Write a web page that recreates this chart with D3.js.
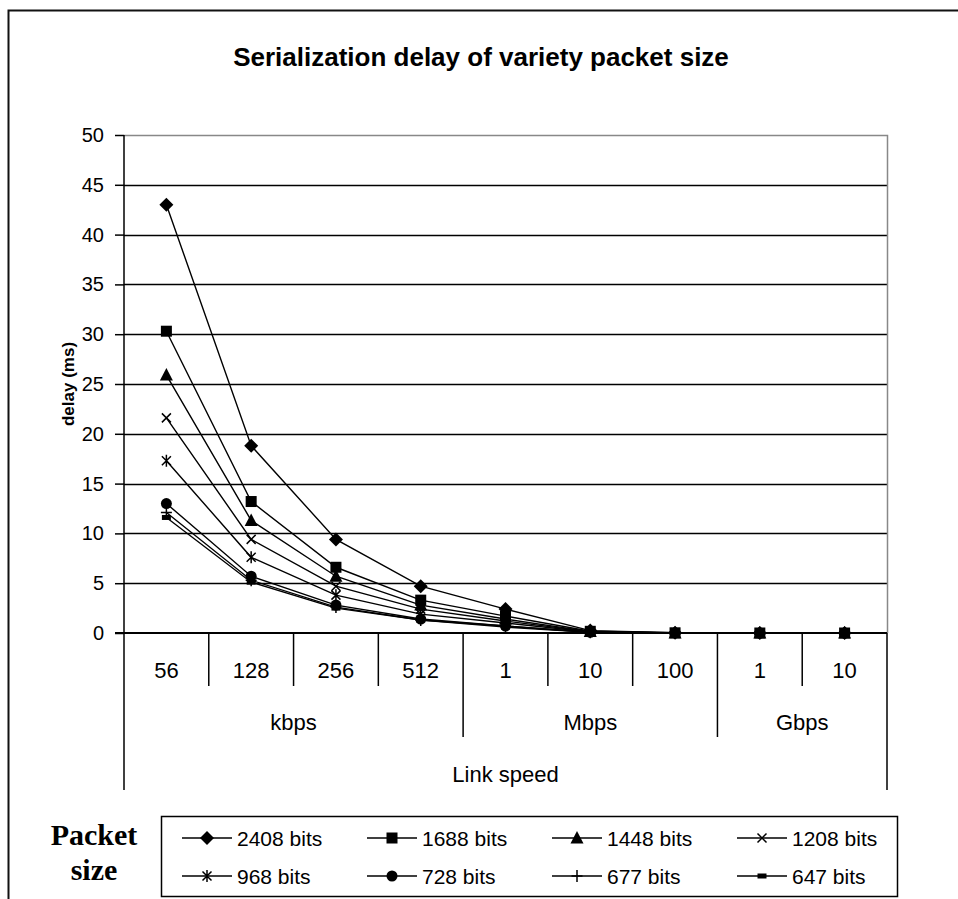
<!DOCTYPE html>
<html>
<head>
<meta charset="utf-8">
<script src="https://cdn.jsdelivr.net/npm/d3@7"></script>
<style>
  body { margin: 0; background: #fff; }
  text { font-family: 'Liberation Sans', Arial, sans-serif; fill: #000; }
</style>
</head>
<body>
<div id="chart"></div>
<script>
// link speed categories (level 1, then group)
const speeds = ['56', '128', '256', '512', '1', '10', '100', '1', '10'];
const groups = [
  { name: 'kbps', from: 0, to: 4 },
  { name: 'Mbps', from: 4, to: 7 },
  { name: 'Gbps', from: 7, to: 9 },
];
const yTicks = [0, 5, 10, 15, 20, 25, 30, 35, 40, 45, 50];

// delay (ms) per packet size
const s2408 = [43.0, 18.8, 9.4, 4.7, 2.4, 0.24, 0.02, 0, 0];
const s1688 = [30.3, 13.2, 6.6, 3.3, 1.7, 0.17, 0.02, 0, 0];
const s1448 = [25.9, 11.3, 5.7, 2.8, 1.4, 0.14, 0.01, 0, 0];
const s1208 = [21.6, 9.4, 4.7, 2.4, 1.2, 0.12, 0.01, 0, 0];
const s968 = [17.3, 7.6, 3.8, 1.9, 1.0, 0.1, 0.01, 0, 0];
const s728 = [13.0, 5.7, 2.8, 1.4, 0.7, 0.07, 0.01, 0, 0];
const s677 = [12.1, 5.3, 2.6, 1.3, 0.7, 0.07, 0.01, 0, 0];
const s647 = [11.6, 5.1, 2.5, 1.3, 0.6, 0.06, 0.01, 0, 0];

const series = [
  { name: '2408 bits', values: s2408, marker: 'diamond' },
  { name: '1688 bits', values: s1688, marker: 'square' },
  { name: '1448 bits', values: s1448, marker: 'triangle' },
  { name: '1208 bits', values: s1208, marker: 'x' },
  { name: '968 bits', values: s968, marker: 'star' },
  { name: '728 bits', values: s728, marker: 'circle' },
  { name: '677 bits', values: s677, marker: 'plus' },
  { name: '647 bits', values: s647, marker: 'dash' },
];

const W = 958, H = 899;
const plot = { left: 124, right: 887, top: 135, bottom: 633 };

const svg = d3.select('#chart').append('svg')
  .attr('width', W).attr('height', H);

// outer frame (only top and left visible in the crop)
svg.append('path')
  .attr('d', 'M8.5,' + H + 'V10.5H' + W)
  .attr('fill', 'none').attr('stroke', '#111').attr('stroke-width', 2);

svg.append('text')
  .attr('x', 481).attr('y', 66)
  .attr('text-anchor', 'middle')
  .style('font-weight', 'bold').style('font-size', '26px')
  .text('Serialization delay of variety packet size');

const x = d3.scaleBand().domain(d3.range(speeds.length))
  .range([plot.left, plot.right]).padding(0);
const y = d3.scaleLinear().domain([0, 50]).range([plot.bottom, plot.top]);

// gridlines
svg.append('g').selectAll('line')
  .data(yTicks.filter((d) => d > 0 && d < 50)).enter().append('line')
  .attr('x1', plot.left).attr('x2', plot.right)
  .attr('y1', (d) => Math.round(y(d)) + 0.5).attr('y2', (d) => Math.round(y(d)) + 0.5)
  .attr('stroke', '#000').attr('stroke-width', 1.5);

// plot border (gray top/right)
svg.append('path')
  .attr('d', 'M' + plot.left + ',' + (plot.top + 0.5) + 'H' + (plot.right + 0.5) + 'V' + plot.bottom)
  .attr('fill', 'none').attr('stroke', '#888').attr('stroke-width', 1.5);

// y axis
const yAxis = svg.append('g')
  .attr('transform', 'translate(' + plot.left + ',0)')
  .call(d3.axisLeft(y).tickValues(yTicks).tickSize(9).tickPadding(11));
yAxis.select('.domain').remove();
yAxis.selectAll('line').attr('stroke', '#000').attr('stroke-width', 1.5);
yAxis.selectAll('text')
  .style('font-size', '20px')
  .style('font-family', "'Liberation Sans', Arial, sans-serif");

svg.append('line')
  .attr('x1', plot.left).attr('x2', plot.left)
  .attr('y1', plot.top).attr('y2', 790)
  .attr('stroke', '#000').attr('stroke-width', 1.5);
svg.append('line')
  .attr('x1', plot.right).attr('x2', plot.right)
  .attr('y1', plot.bottom).attr('y2', 790)
  .attr('stroke', '#000').attr('stroke-width', 1.5);

// x axis line
svg.append('line')
  .attr('x1', plot.left - 9).attr('x2', plot.right)
  .attr('y1', plot.bottom).attr('y2', plot.bottom)
  .attr('stroke', '#000').attr('stroke-width', 2);

svg.append('text')
  .attr('transform', 'translate(74,' + ((plot.top + plot.bottom) / 2) + ') rotate(-90)')
  .attr('text-anchor', 'middle')
  .style('font-weight', 'bold').style('font-size', '17px')
  .text('delay (ms)');

// category level 1
const cat = svg.append('g');
cat.selectAll('line.sep')
  .data(d3.range(1, speeds.length)).enter().append('line')
  .attr('x1', (i) => x(i)).attr('x2', (i) => x(i))
  .attr('y1', plot.bottom).attr('y2', (i) => (groups.some((g) => g.from === i) ? 737 : 686))
  .attr('stroke', '#000').attr('stroke-width', 1.5);
cat.selectAll('text.speed')
  .data(speeds).enter().append('text')
  .attr('x', (d, i) => x(i) + x.bandwidth() / 2)
  .attr('y', 678)
  .attr('text-anchor', 'middle')
  .style('font-size', '22px')
  .text((d) => d);
cat.selectAll('text.group')
  .data(groups).enter().append('text')
  .attr('x', (g) => (x(g.from) + (g.to < speeds.length ? x(g.to) : plot.right)) / 2)
  .attr('y', 730)
  .attr('text-anchor', 'middle')
  .style('font-size', '22px')
  .text((g) => g.name);
svg.append('text')
  .attr('x', (plot.left + plot.right) / 2).attr('y', 782)
  .attr('text-anchor', 'middle')
  .style('font-size', '22px')
  .text('Link speed');

// marker drawing
const drawMarker = (g, type) => {
  switch (type) {
    case 'diamond':
      g.append('path').attr('d', 'M0,-7L7,0L0,7L-7,0Z').attr('fill', '#000');
      break;
    case 'square':
      g.append('rect').attr('x', -5.5).attr('y', -5.5).attr('width', 11).attr('height', 11).attr('fill', '#000');
      break;
    case 'triangle':
      g.append('path').attr('d', 'M0,-7L6.5,5.5L-6.5,5.5Z').attr('fill', '#000');
      break;
    case 'x':
      g.append('path').attr('d', 'M-4.5,-4.5L4.5,4.5M-4.5,4.5L4.5,-4.5').attr('stroke', '#000').attr('stroke-width', 1.5);
      break;
    case 'star':
      g.append('path').attr('d', 'M-4.5,-4.5L4.5,4.5M-4.5,4.5L4.5,-4.5M0,-6V6').attr('stroke', '#000').attr('stroke-width', 1.5);
      break;
    case 'circle':
      g.append('circle').attr('r', 5.5).attr('fill', '#000');
      break;
    case 'plus':
      g.append('path').attr('d', 'M-5.5,0H5.5M0,-6V6').attr('stroke', '#000').attr('stroke-width', 1.5);
      break;
    case 'dash':
      g.append('rect').attr('x', -4.5).attr('y', -2.5).attr('width', 9).attr('height', 5).attr('fill', '#000');
      break;
  }
};

const line = d3.line()
  .x((d, i) => x(i) + x.bandwidth() / 2)
  .y((d) => y(d));

const lines = svg.append('g');
series.slice().reverse().forEach((s) => {
  lines.append('path')
    .datum(s.values)
    .attr('fill', 'none')
    .attr('stroke', '#000')
    .attr('stroke-width', 1.4)
    .attr('d', line);
});
series.slice().reverse().forEach((s) => {
  s.values.forEach((v, i) => {
    const g = lines.append('g')
      .attr('transform', 'translate(' + (x(i) + x.bandwidth() / 2) + ',' + y(v) + ')');
    drawMarker(g, s.marker);
  });
});

// legend
svg.append('rect')
  .attr('x', 161.5).attr('y', 816.5).attr('width', 736).attr('height', 80)
  .attr('fill', '#fff').attr('stroke', '#000').attr('stroke-width', 1.5);

const legend = svg.append('g').selectAll('g')
  .data(series).enter().append('g')
  .attr('transform', (d, i) => 'translate(' + (182 + (i % 4) * 185) + ',' + (i < 4 ? 838 : 876) + ')');
legend.append('line')
  .attr('x1', 0).attr('x2', 50).attr('y1', 0).attr('y2', 0)
  .attr('stroke', '#000').attr('stroke-width', 1.5);
legend.each(function (d) {
  drawMarker(d3.select(this).append('g').attr('transform', 'translate(25,0)'), d.marker);
});
legend.append('text')
  .attr('x', 55).attr('y', 8)
  .style('font-size', '21px')
  .text((d) => d.name);

const ps = svg.append('text')
  .attr('text-anchor', 'middle')
  .style('font-family', "'Liberation Serif', 'Times New Roman', serif")
  .style('font-weight', 'bold').style('font-size', '30px');
ps.append('tspan').attr('x', 94).attr('y', 845).text('Packet');
ps.append('tspan').attr('x', 94).attr('y', 880).text('size');
</script>
</body>
</html>
